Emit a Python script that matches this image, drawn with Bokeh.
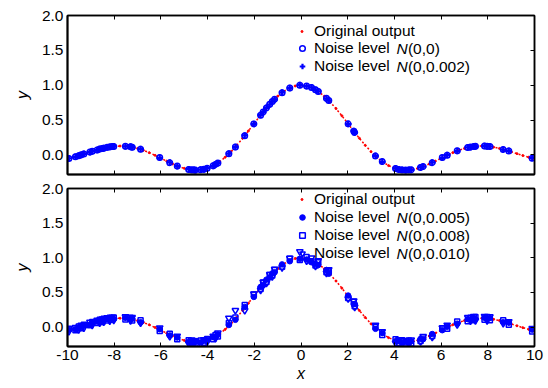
from bokeh.plotting import figure
from bokeh.models import (LinearAxis, FixedTicker, Legend, LegendItem, Label,
                          Range1d, PrintfTickFormatter)
from bokeh.layouts import column
from bokeh.embed import file_html
from bokeh.resources import INLINE

# ---------------- data ----------------
X_TICKS = [-10, -8, -6, -4, -2, 0, 2, 4, 6, 8, 10]
Y_TICKS = [0.0, 0.5, 1.0, 1.5, 2.0]

# "Original output" curve
CURVE_X = [-10.0, -9.75, -9.5, -9.25, -9.0, -8.75, -8.5, -8.25, -8.0, -7.75,
           -7.5, -7.25, -7.0, -6.75, -6.5, -6.25, -6.0, -5.75, -5.5, -5.25,
           -5.0, -4.75, -4.5, -4.25, -4.0, -3.75, -3.5, -3.25, -3.0, -2.75,
           -2.5, -2.25, -2.0, -1.75, -1.5, -1.25, -1.0, -0.75, -0.5, -0.25,
           0.0, 0.25, 0.5, 0.75, 1.0, 1.25, 1.5, 1.75, 2.0, 2.25,
           2.5, 2.75, 3.0, 3.25, 3.5, 3.75, 4.0, 4.25, 4.5, 4.75,
           5.0, 5.25, 5.5, 5.75, 6.0, 6.25, 6.5, 6.75, 7.0, 7.25,
           7.5, 7.75, 8.0, 8.25, 8.5, 8.75, 9.0, 9.25, 9.5, 9.75, 10.0]
CURVE_Y = [-0.0544, -0.0328, -0.0079, 0.0188, 0.0458, 0.0714, 0.0939, 0.1118, 0.1237, 0.1283,
           0.1251, 0.1135, 0.0939, 0.0667, 0.0331, -0.0053, -0.0466, -0.0884, -0.1283, -0.1636,
           -0.1918, -0.2104, -0.2172, -0.2106, -0.1892, -0.1524, -0.1002, -0.0333, 0.0470, 0.1388,
           0.2394, 0.3458, 0.4546, 0.5623, 0.6650, 0.7592, 0.8415, 0.9089, 0.9589, 0.9896,
           1.0000, 0.9896, 0.9589, 0.9089, 0.8415, 0.7592, 0.6650, 0.5623, 0.4546, 0.3458,
           0.2394, 0.1388, 0.0470, -0.0333, -0.1002, -0.1524, -0.1892, -0.2106, -0.2172, -0.2104,
           -0.1918, -0.1636, -0.1283, -0.0884, -0.0466, -0.0053, 0.0331, 0.0667, 0.0939, 0.1135,
           0.1251, 0.1283, 0.1237, 0.1118, 0.0939, 0.0714, 0.0458, 0.0188, -0.0079, -0.0328, -0.0544]

# sample inputs
SAMPLE_X = [-9.94, -9.66, -9.52, -9.41, -9.30, -9.04, -8.94, -8.73, -8.62, -8.51,
            -8.45, -8.30, -8.19, -8.09, -8.02, -7.52, -7.30, -7.23, -6.87, -6.05,
            -5.62, -5.30, -4.81, -4.69, -4.59, -4.52, -4.30, -4.16, -4.02, -3.76,
            -3.66, -3.56, -3.09, -2.81, -2.41, -2.02, -1.73, -1.62, -1.48, -1.34,
            -1.23, -1.13, -0.81, -0.48, -0.05, 0.24, 0.45, 0.62, 0.74, 1.09,
            1.19, 2.02, 2.26, 2.30, 3.19, 3.48, 4.05, 4.19, 4.33, 4.48,
            4.62, 4.72, 5.12, 5.23, 5.62, 6.05, 6.26, 6.69, 7.14, 7.26,
            7.40, 7.47, 7.86, 7.97, 8.09, 8.66, 8.90, 9.90]

Y_N0 = [-0.050, -0.024, -0.010, 0.002, 0.013, 0.042, 0.052, 0.073, 0.084, 0.093,
        0.098, 0.109, 0.115, 0.120, 0.123, 0.126, 0.117, 0.112, 0.081, -0.038,
        -0.110, -0.157, -0.207, -0.213, -0.216, -0.217, -0.213, -0.205, -0.192, -0.154,
        -0.135, -0.114, 0.017, 0.116, 0.277, 0.446, 0.571, 0.617, 0.673, 0.727,
        0.766, 0.800, 0.894, 0.962, 1.000, 0.990, 0.967, 0.937, 0.911, 0.813,
        0.780, 0.446, 0.342, 0.324, -0.015, -0.095, -0.195, -0.207, -0.214, -0.217,
        -0.216, -0.212, -0.179, -0.166, -0.110, -0.038, -0.004, 0.059, 0.106, 0.114,
        0.121, 0.124, 0.127, 0.125, 0.120, 0.080, 0.056, -0.046]

Y_N0002 = [-0.047, -0.026, -0.008, 0.000, 0.016, 0.040, 0.055, 0.071, 0.087, 0.091,
           0.101, 0.106, 0.118, 0.117, 0.126, 0.123, 0.120, 0.109, 0.084, -0.041,
           -0.107, -0.160, -0.204, -0.216, -0.213, -0.220, -0.210, -0.208, -0.189, -0.157,
           -0.132, -0.117, 0.020, 0.113, 0.280, 0.443, 0.574, 0.614, 0.676, 0.724,
           0.769, 0.797, 0.897, 0.959, 1.003, 0.987, 0.970, 0.934, 0.914, 0.810,
           0.783, 0.443, 0.345, 0.321, -0.012, -0.098, -0.192, -0.210, -0.211, -0.220,
           -0.213, -0.215, -0.176, -0.169, -0.107, -0.041, -0.001, 0.056, 0.109, 0.111,
           0.124, 0.121, 0.130, 0.122, 0.123, 0.077, 0.059, -0.043]

Y_N0005 = [-0.040, -0.030, -0.005, 0.010, 0.020, 0.035, 0.060, 0.080, 0.090, 0.085,
           0.105, 0.115, 0.120, 0.130, 0.115, 0.135, 0.110, 0.120, 0.070, -0.030,
           -0.120, -0.150, -0.215, -0.205, -0.225, -0.210, -0.220, -0.195, -0.185, -0.145,
           -0.145, -0.105, 0.030, 0.105, 0.290, 0.435, 0.580, 0.605, 0.685, 0.715,
           0.775, 0.790, 0.905, 0.950, 0.985, 0.975, 0.935, 0.910, 0.895, 0.825,
           0.770, 0.455, 0.330, 0.335, -0.025, -0.085, -0.205, -0.200, -0.225, -0.210,
           -0.225, -0.205, -0.170, -0.175, -0.100, -0.045, 0.005, 0.050, 0.115, 0.105,
           0.130, 0.115, 0.135, 0.115, 0.130, 0.070, 0.065, -0.035]

Y_N0008 = [-0.025, -0.045, 0.010, -0.015, 0.035, 0.025, 0.075, 0.060, 0.105, 0.075,
           0.120, 0.095, 0.135, 0.105, 0.140, 0.110, 0.135, 0.095, 0.100, -0.055,
           -0.095, -0.175, -0.190, -0.230, -0.200, -0.235, -0.195, -0.225, -0.170, -0.175,
           -0.115, -0.135, 0.060, 0.140, 0.320, 0.470, 0.550, 0.645, 0.650, 0.750,
           0.745, 0.825, 0.870, 0.985, 0.970, 1.010, 0.950, 0.890, 0.935, 0.790,
           0.805, 0.420, 0.365, 0.300, 0.005, -0.115, -0.175, -0.230, -0.190, -0.235,
           -0.195, -0.235, -0.200, -0.145, -0.130, -0.015, -0.025, 0.080, 0.085, 0.135,
           0.100, 0.145, 0.105, 0.145, 0.100, 0.100, 0.035, -0.065]

Y_N0010 = [-0.060, -0.005, -0.035, 0.030, -0.010, 0.070, 0.030, 0.100, 0.060, 0.120,
           0.075, 0.135, 0.090, 0.145, 0.100, 0.150, 0.095, 0.140, 0.060, -0.010,
           -0.135, -0.130, -0.235, -0.185, -0.240, -0.195, -0.240, -0.180, -0.215, -0.130,
           -0.160, -0.085, 0.130, 0.240, 0.240, 0.480, 0.535, 0.650, 0.635, 0.760,
           0.730, 0.835, 0.860, 0.995, 1.090, 0.955, 1.000, 0.880, 0.960, 0.780,
           0.830, 0.410, 0.380, 0.290, 0.030, -0.065, -0.230, -0.180, -0.245, -0.190,
           -0.245, -0.185, -0.210, -0.135, -0.145, -0.010, 0.030, 0.035, 0.140, 0.090,
           0.155, 0.095, 0.155, 0.095, 0.150, 0.055, 0.080, -0.020]

LEGEND_ORIG = "Original output"
LEGEND_NOISE = "Noise level"
LEGEND_TOP_ARGS = ["(0,0)", "(0,0.002)"]
LEGEND_BOT_ARGS = ["(0,0.005)", "(0,0.008)", "(0,0.010)"]

# ---------------- styling ----------------
FONT = "Liberation Sans"
BLUE = "#0000ff"
RED = "#ff0000"
TICK_FS = "15.5px"
LEG_FS = "15.5px"


def style_axis(ax, labels, width=1.5, tick_in=4):
    ax.axis_line_color = "black"
    ax.axis_line_width = width
    ax.major_tick_in = tick_in
    ax.major_tick_out = 0
    ax.minor_tick_in = 0
    ax.minor_tick_out = 0
    ax.major_tick_line_color = "black"
    ax.major_tick_line_width = 1
    ax.major_label_text_font = FONT
    if labels:
        ax.major_label_text_color = "black"
        ax.major_label_text_font_size = TICK_FS
        ax.major_label_standoff = 4
    else:
        ax.major_label_text_color = None
        ax.major_label_text_font_size = "1px"
        ax.major_label_standoff = 0
    ax.axis_label_text_font = FONT
    ax.axis_label_text_font_style = "italic"
    ax.axis_label_text_font_size = "16px"
    ax.axis_label_text_color = "black"


def make_panel(frame_h, border_top, border_bottom, show_x):
    p = figure(frame_width=467, frame_height=frame_h, output_backend="svg",
               toolbar_location=None,
               x_range=Range1d(-10, 10), y_range=Range1d(-0.28, 2.0),
               min_border_left=67, min_border_right=14,
               min_border_top=border_top, min_border_bottom=border_bottom)
    p.grid.visible = False
    p.outline_line_color = "black"
    p.outline_line_width = 1.5
    p.background_fill_color = "white"
    p.border_fill_color = "white"

    xb = p.xaxis[0]
    xb.ticker = FixedTicker(ticks=X_TICKS)
    xb.formatter = PrintfTickFormatter(format="%d")
    style_axis(xb, show_x, width=2)
    if show_x:
        xb.axis_label = "x"
        xb.major_label_standoff = 3
        xb.axis_label_standoff = 2

    yl = p.yaxis[0]
    yl.ticker = FixedTicker(ticks=Y_TICKS)
    yl.formatter = PrintfTickFormatter(format="%.1f")
    style_axis(yl, True, width=2, tick_in=0)
    yl.axis_label = "y"
    yl.axis_label_standoff = 8

    xa = LinearAxis(ticker=FixedTicker(ticks=X_TICKS))
    style_axis(xa, False)
    p.add_layout(xa, "above")
    yr = LinearAxis(ticker=FixedTicker(ticks=Y_TICKS))
    style_axis(yr, False)
    p.add_layout(yr, "right")

    p.line(CURVE_X, CURVE_Y, line_color=RED, line_width=1.5, line_dash="2 2")
    r_red = p.scatter(CURVE_X, CURVE_Y, marker="circle", size=2,
                      fill_color=RED, line_color=RED)
    return p, r_red


def legend(items, loc, glyph_w, standoff):
    return Legend(items=items, location=loc, orientation="vertical",
                  padding=0, margin=0, spacing=0,
                  glyph_width=glyph_w, glyph_height=16, label_height=16,
                  label_standoff=standoff, label_text_font=FONT,
                  label_text_font_size=LEG_FS, label_text_color="black",
                  border_line_color=None, background_fill_alpha=0)


def add_args(p, texts, rows, n_x, arg_x):
    for txt, yrow in zip(texts, rows):
        p.add_layout(Label(x=n_x, y=yrow, text="N", text_font=FONT,
                           text_font_style="italic", text_font_size=LEG_FS,
                           text_baseline="middle", text_color="black"))
        p.add_layout(Label(x=arg_x, y=yrow, text=txt, text_font=FONT,
                           text_font_size=LEG_FS, text_baseline="middle",
                           text_color="black"))


# ---------------- top panel ----------------
p1, red1 = make_panel(159, 15, 7, False)
r_a = p1.scatter(SAMPLE_X, Y_N0, marker="circle", size=5.5,
                 line_color=BLUE, line_width=1.5, fill_color=None)
r_b = p1.scatter(SAMPLE_X, Y_N0002, marker="cross", size=6.5,
                 line_color=BLUE, line_width=2.2)
p1.add_layout(legend([LegendItem(label=LEGEND_ORIG, renderers=[red1])],
                     (232, 134), 5, 10))
p1.add_layout(legend([LegendItem(label=LEGEND_NOISE, renderers=[r_a]),
                      LegendItem(label=LEGEND_NOISE, renderers=[r_b])],
                     (228, 99), 14, 5))
add_args(p1, LEGEND_TOP_ARGS, [1.527, 1.272], 4.09, 4.58)

# ---------------- bottom panel ----------------
p2, red2 = make_panel(158, 7, 42, True)
r_c = p2.scatter(SAMPLE_X, Y_N0005, marker="circle", size=5.5,
                 line_color=BLUE, fill_color=BLUE)
r_d = p2.scatter(SAMPLE_X, Y_N0008, marker="square", size=5,
                 line_color=BLUE, line_width=1.5, fill_color=None)
r_e = p2.scatter(SAMPLE_X, Y_N0010, marker="inverted_triangle", size=6.5,
                 line_color=BLUE, line_width=1.5, fill_color=None)
p2.add_layout(legend([LegendItem(label=LEGEND_ORIG, renderers=[red2])],
                     (232, 138), 5, 10))
p2.add_layout(legend([LegendItem(label=LEGEND_NOISE, renderers=[r_c]),
                      LegendItem(label=LEGEND_NOISE, renderers=[r_d]),
                      LegendItem(label=LEGEND_NOISE, renderers=[r_e])],
                     (228, 84), 14, 5))
add_args(p2, LEGEND_BOT_ARGS, [1.576, 1.319, 1.062], 4.09, 4.58)

layout = column(p1, p2, spacing=0)
open("out.html", "w").write(file_html(layout, INLINE))
